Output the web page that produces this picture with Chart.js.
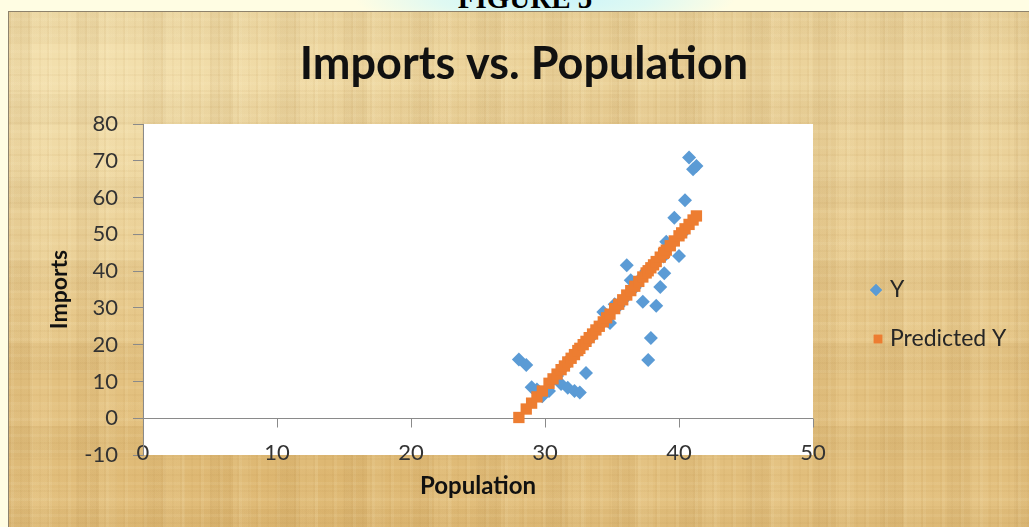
<!DOCTYPE html>
<html>
<head>
<meta charset="utf-8">
<script src="https://cdn.jsdelivr.net/npm/chart.js@4.4.1/dist/chart.umd.min.js"></script>
<style>
  html, body { margin: 0; padding: 0; }
  body {
    width: 1029px; height: 527px; overflow: hidden; position: relative;
    background:
      radial-gradient(ellipse 190px 30px at 545px 0px, #c9f4fb 0%, #dff9f2 55%, rgba(255,255,230,0) 100%),
      #fffde3;
  }
  #figlabel {
    position: absolute; left: 0; width: 1050px; top: -16px; text-align: center;
    font: bold 29px "Liberation Serif", serif; line-height: 29px; color: #000;
  }
  #frame {
    position: absolute; left: 8px; top: 11px; width: 1040px; height: 530px;
    border: 1px solid #8d826c; box-sizing: border-box;
    background:
      repeating-linear-gradient(90deg, rgba(176,130,60,0.07) 0 2px, rgba(255,245,210,0.08) 2px 5px, rgba(0,0,0,0) 5px 11px, rgba(170,125,55,0.05) 11px 13px, rgba(0,0,0,0) 13px 19px),
      repeating-linear-gradient(0deg, rgba(170,125,55,0.06) 0 2px, rgba(0,0,0,0) 2px 7px, rgba(255,242,205,0.09) 7px 10px, rgba(0,0,0,0) 10px 16px),
      repeating-linear-gradient(90deg, rgba(150,110,50,0.06) 0 23px, rgba(255,240,200,0.07) 23px 41px, rgba(0,0,0,0) 41px 67px),
      repeating-linear-gradient(0deg, rgba(150,110,50,0.05) 0 31px, rgba(255,240,200,0.06) 31px 52px, rgba(0,0,0,0) 52px 83px),
      radial-gradient(ellipse 520px 300px at 80px 60px, rgba(245,228,180,0.85), rgba(245,228,180,0) 100%),
      radial-gradient(ellipse 600px 300px at 980px 80px, rgba(240,220,170,0.55), rgba(240,220,170,0) 100%),
      radial-gradient(ellipse 300px 120px at 300px 480px, rgba(214,170,95,0.45), rgba(214,170,95,0) 100%),
      linear-gradient(180deg, #e9cf95 0%, #e4c383 55%, #e1bd7a 100%);
  }
  #chart { position: absolute; left: 0; top: 0; }
</style>
</head>
<body>
<div id="figlabel">FIGURE 5</div>
<div id="frame"></div>
<canvas id="chart" width="1029" height="527"></canvas>
<script>
// Population (x) for each observation
const population = [
  28.05, 28.6, 29.0, 29.4, 29.8, 30.3, 30.6, 30.9, 31.2, 31.45,
  31.7, 31.95, 32.2, 32.45, 32.6, 32.85, 33.06, 33.3, 33.55, 33.8,
  34.05, 34.35, 34.6, 34.85, 35.2, 35.5, 35.8, 36.1, 36.4, 36.7,
  37.0, 37.3, 37.55, 37.7, 37.9, 38.1, 38.3, 38.6, 38.85, 38.9,
  39.05, 39.35, 39.65, 40.0, 40.2, 40.45, 40.75, 41.05, 41.3
];

// Observed imports (Y)
const importsY = [
  16.0, 14.5, 8.4, 7.8, 6.0, 7.4, 10.5, 11.5, 9.3, 14.0,
  8.3, 16.5, 7.4, 18.0, 7.0, 20.0, 12.3, 21.5, 23.0, 24.0,
  25.0, 28.9, 27.0, 25.9, 31.0, 30.5, 32.0, 41.6, 37.5, 35.5,
  37.5, 31.7, 40.0, 15.8, 21.8, 42.0, 30.6, 35.7, 44.0, 39.4,
  48.0, 47.0, 54.5, 44.1, 50.0, 59.3, 70.9, 67.7, 68.6
];

// Fitted imports (Predicted Y)
const predictedY = [
  0.2, 2.5, 4.1, 5.8, 7.4, 9.5, 10.7, 12.0, 13.2, 14.2,
  15.3, 16.3, 17.3, 18.4, 19.0, 20.0, 20.9, 21.9, 22.9, 24.0,
  25.0, 26.2, 27.3, 28.3, 29.8, 31.0, 32.2, 33.5, 34.7, 35.9,
  37.2, 38.4, 39.5, 40.1, 40.9, 41.7, 42.6, 43.8, 44.8, 45.1,
  45.7, 46.9, 48.2, 49.6, 50.4, 51.5, 52.7, 53.9, 55.0
];

const seriesNames = ['Y', 'Predicted Y'];
const chartTitle = 'Imports vs. Population';
const xTitle = 'Population';
const yTitle = 'Imports';
const xTicks = { min: 0, max: 50, step: 10 };
const yTicks = { min: -10, max: 80, step: 10 };

const BLUE = '#5b9bd5';
const ORANGE = '#ed7d31';
const AXIS = '#8a8a8a';
const FONT = 'Lato, "Open Sans", sans-serif';

// White plot area, zero line and the x-axis tick marks hanging below it
const plotDecor = {
  id: 'plotDecor',
  afterLayout(chart) {
    // centre the title over the whole frame rather than over the plot column
    const tb = chart.titleBlock;
    if (tb) { tb.left = 0; tb.right = 1048; tb.width = 1048; }
  },
  beforeDraw(chart) {
    const { ctx, chartArea: a } = chart;
    ctx.save();
    ctx.fillStyle = '#ffffff';
    ctx.fillRect(a.left, a.top, a.right - a.left, a.bottom - a.top);
    ctx.restore();
  },
  beforeDatasetsDraw(chart) {
    const { ctx, chartArea: a, scales: { x, y } } = chart;
    ctx.save();
    const y0 = Math.round(y.getPixelForValue(0)) + 0.5;
    ctx.strokeStyle = AXIS;
    ctx.lineWidth = 1;
    ctx.beginPath();
    ctx.moveTo(a.left, y0);
    ctx.lineTo(a.right, y0);
    x.ticks.forEach(t => {
      const px = Math.round(x.getPixelForValue(t.value)) + 0.5;
      ctx.moveTo(px, y0);
      ctx.lineTo(px, y0 + 9);
    });
    ctx.stroke();
    ctx.restore();
  }
};

// Legend placed to the right of the plot
const sideLegend = {
  id: 'sideLegend',
  afterDraw(chart) {
    const { ctx } = chart;
    const rows = [
      { ds: chart.data.datasets[0], mx: 876, y: 290, r: 6 },
      { ds: chart.data.datasets[1], mx: 878, y: 339, r: 6 }
    ];
    ctx.save();
    ctx.font = '23px ' + FONT;
    ctx.textBaseline = 'middle';
    ctx.textAlign = 'left';
    rows.forEach(row => {
      ctx.fillStyle = row.ds.backgroundColor;
      Chart.helpers.drawPoint(ctx, { pointStyle: row.ds.pointStyle, radius: row.r, rotation: 0, borderWidth: 0 }, row.mx, row.y);
      ctx.fill();
      ctx.fillStyle = '#262626';
      ctx.fillText(row.ds.label, 890, row.y);
    });
    ctx.restore();
  }
};

new Chart(document.getElementById('chart'), {
  type: 'scatter',
  data: {
    datasets: [
      {
        label: seriesNames[0],
        data: population.map((p, i) => ({ x: p, y: importsY[i] })),
        pointStyle: 'rectRot',
        pointRadius: 7,
        pointBorderWidth: 0,
        backgroundColor: BLUE,
        borderColor: BLUE,
        order: 1
      },
      {
        label: seriesNames[1],
        data: population.map((p, i) => ({ x: p, y: predictedY[i] })),
        pointStyle: 'rect',
        pointRadius: 8,
        pointBorderWidth: 0,
        backgroundColor: ORANGE,
        borderColor: ORANGE,
        order: 0
      }
    ]
  },
  options: {
    responsive: false,
    animation: false,
    devicePixelRatio: 1,
    layout: { padding: { left: 8, top: 37, right: 216, bottom: 22 } },
    plugins: {
      legend: { display: false },
      tooltip: { enabled: false },
      title: {
        display: true,
        text: chartTitle,
        color: '#111111',
        font: { family: FONT, size: 45, weight: 'bold', lineHeight: 1.2 },
        padding: { top: 0, bottom: 33 }
      }
    },
    scales: {
      x: {
        type: 'linear',
        min: xTicks.min, max: xTicks.max,
        afterFit(s) { s.height = 50; },
        border: { display: false },
        grid: { display: false, drawTicks: false },
        ticks: {
          stepSize: xTicks.step,
          mirror: true,
          padding: -11,
          color: '#333333',
          font: { family: FONT, size: 22, lineHeight: 1.2 },
          maxRotation: 0
        },
        title: {
          display: true, text: xTitle, color: '#111111',
          font: { family: FONT, size: 24, weight: 'bold', lineHeight: 1.2 },
          padding: { top: 0, bottom: 4 }
        }
      },
      y: {
        type: 'linear',
        min: yTicks.min, max: yTicks.max,
        afterFit(s) { s.width = 135; },
        border: { display: true, color: AXIS, width: 1 },
        grid: { drawOnChartArea: false, drawTicks: true, tickLength: 10, tickColor: AXIS },
        ticks: {
          stepSize: yTicks.step,
          padding: 15,
          color: '#333333',
          font: { family: FONT, size: 22, lineHeight: 1.2 }
        },
        title: {
          display: true, text: yTitle, color: '#111111',
          font: { family: FONT, size: 23, weight: 'bold', lineHeight: 1.2 },
          padding: { top: 38, bottom: 0 }
        }
      }
    }
  },
  plugins: [plotDecor, sideLegend]
});
</script>
</body>
</html>
